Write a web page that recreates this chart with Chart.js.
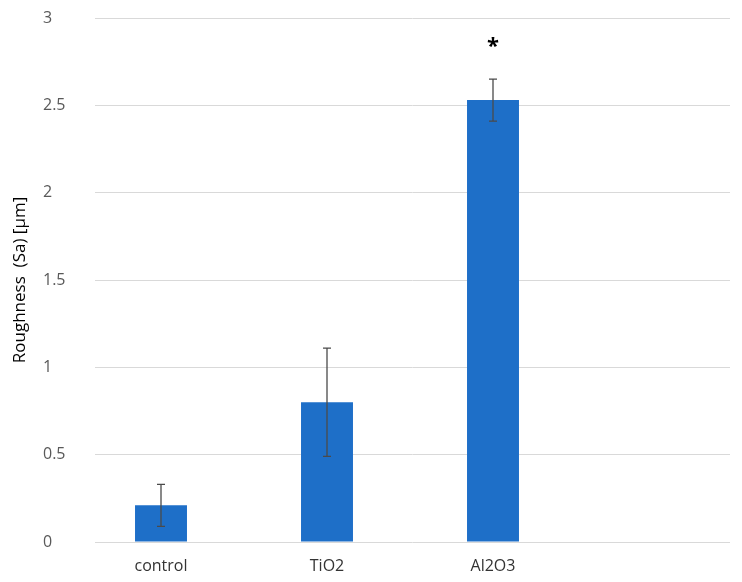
<!DOCTYPE html>
<html>
<head>
<meta charset="utf-8">
<script src="https://cdn.jsdelivr.net/npm/chart.js@4.4.1/dist/chart.umd.min.js"></script>
<style>
  html, body { margin: 0; padding: 0; background: #ffffff; }
  #wrap { width: 742px; height: 582px; }
</style>
</head>
<body>
<div id="wrap"><canvas id="c" width="742" height="582"></canvas></div>
<script>
// ---- data ----
const categories = ['control', 'TiO2', 'Al2O3'];
const positions = [1, 2, 3];
const roughness = [0.21, 0.80, 2.53];
const errors = [0.12, 0.31, 0.12];
const significance = ['', '', '*'];
const sigLevels = [null, null, 2.86];
const yTicks = [0, 0.5, 1, 1.5, 2, 2.5, 3];
const yTitle = 'Roughness  (Sa) [µm]';

Chart.defaults.font.family = "'Open Sans', sans-serif";

const errorBarPlugin = {
  id: 'errorBars',
  afterDatasetsDraw(chart) {
    const ctx = chart.ctx;
    const xs = chart.scales.x, ys = chart.scales.y;
    ctx.save();
    ctx.strokeStyle = '#4a4a4a';
    ctx.lineWidth = 1.3;
    positions.forEach((p, i) => {
      const x = xs.getPixelForValue(p);
      const yHi = ys.getPixelForValue(roughness[i] + errors[i]);
      const yLo = ys.getPixelForValue(roughness[i] - errors[i]);
      ctx.beginPath();
      ctx.moveTo(x, yHi); ctx.lineTo(x, yLo);
      ctx.moveTo(x - 4, yHi); ctx.lineTo(x + 4, yHi);
      ctx.moveTo(x - 4, yLo); ctx.lineTo(x + 4, yLo);
      ctx.stroke();
    });
    ctx.fillStyle = '#000000';
    ctx.font = "bold 22px 'Open Sans', sans-serif";
    ctx.textAlign = 'center';
    ctx.textBaseline = 'middle';
    positions.forEach((p, i) => {
      if (significance[i] && sigLevels[i] != null) {
        ctx.fillText(significance[i], xs.getPixelForValue(p), ys.getPixelForValue(sigLevels[i]) + 4);
      }
    });
    ctx.restore();
  }
};

new Chart(document.getElementById('c'), {
  type: 'bar',
  data: {
    datasets: [{
      data: positions.map((p, i) => ({ x: p, y: roughness[i] })),
      backgroundColor: '#1E6FC8',
      borderWidth: 0,
      categoryPercentage: 1,
      barPercentage: 0.313
    }]
  },
  options: {
    responsive: false,
    animation: false,
    devicePixelRatio: 1,
    layout: { padding: { top: 18, right: 12, bottom: 0, left: 0 } },
    plugins: {
      legend: { display: false },
      tooltip: { enabled: false },
      title: {
        display: true,
        text: yTitle,
        position: 'left',
        fullSize: false,
        color: '#000000',
        font: { size: 17, weight: 'normal' },
        padding: { top: 10, bottom: 12.6 }
      }
    },
    scales: {
      x: {
        type: 'linear',
        offset: false,
        min: 0.6024,
        max: 4.4277,
        grid: { display: false, drawTicks: false, offset: false },
        border: { display: false },
        afterBuildTicks(scale) { scale.ticks = positions.map(v => ({ value: v })); },
        afterFit(scale) { scale.height = 40; },
        ticks: {
          padding: 15,
          color: '#333333',
          font: { size: 16 },
          callback: (v) => categories[positions.indexOf(v)] ?? ''
        }
      },
      y: {
        min: 0,
        max: 3,
        afterBuildTicks(scale) { scale.ticks = yTicks.map(v => ({ value: v })); },
        afterFit(scale) { scale.width = 52; },
        grid: { color: '#d9d9d9', lineWidth: 1, drawTicks: false },
        border: { display: false },
        ticks: {
          crossAlign: 'far',
          padding: 0,
          color: '#595959',
          font: { size: 16 },
          callback: (v) => String(v)
        }
      }
    }
  },
  plugins: [errorBarPlugin]
});
</script>
</body>
</html>
